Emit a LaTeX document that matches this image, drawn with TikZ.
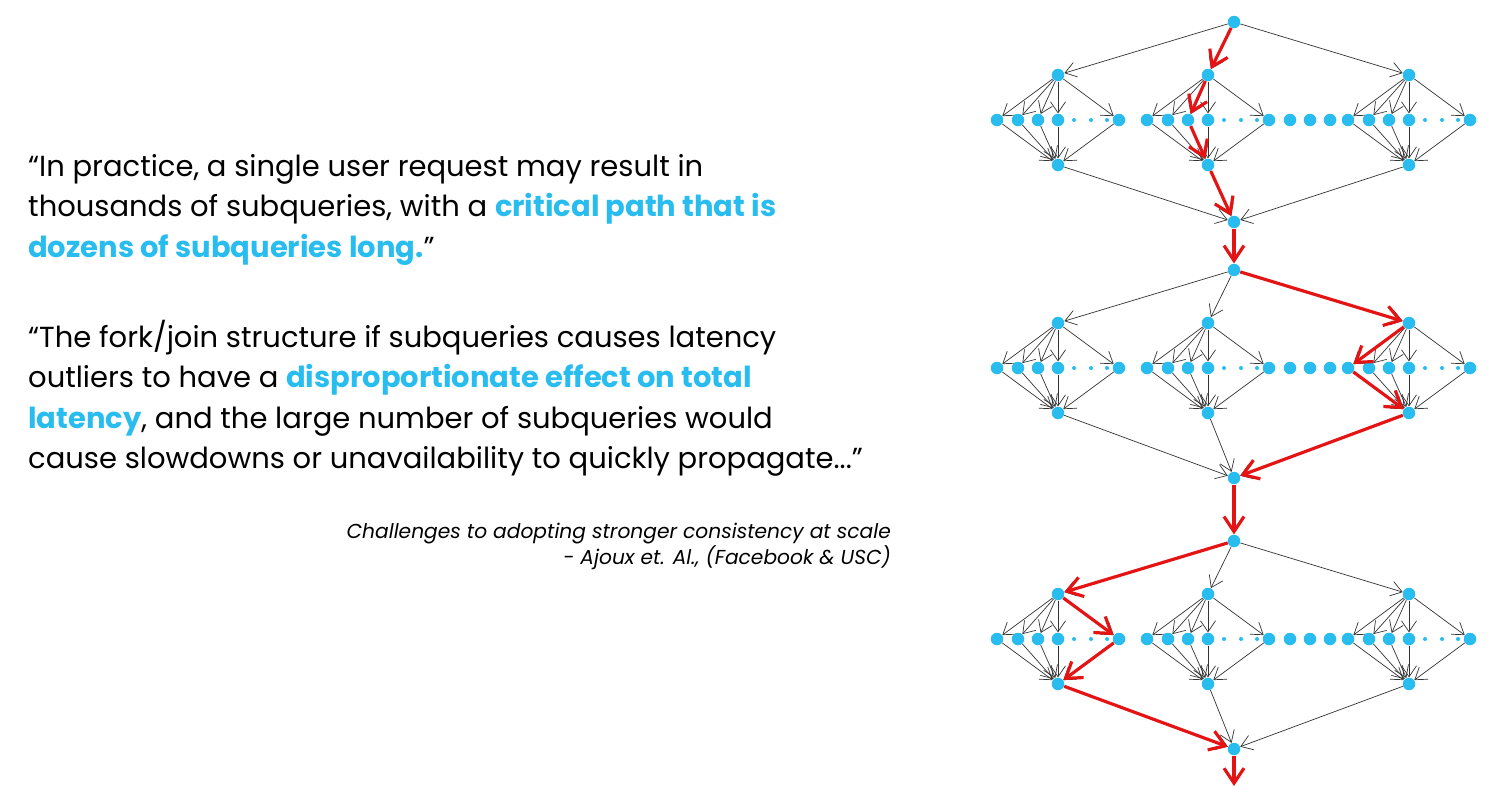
\documentclass[tikz,border=0pt]{standalone}
\usepackage{fontspec}
\setmainfont{Poppins}
\usetikzlibrary{arrows.meta}
\definecolor{qblue}{RGB}{41,189,239}
\definecolor{qred}{RGB}{228,20,20}
\tikzset{
    dot/.style = {circle, fill=qblue, inner sep=0pt, minimum size=0.25cm},
    tiny/.style = {circle, fill=qblue, inner sep=0pt, minimum size=0.08cm},
    edgen/.style = {-{Straight Barb[length=2.2mm,width=3mm]}, line width=0.4pt, black!80},
    edger/.style = {-{Straight Barb[length=3mm,width=4mm]}, line width=1.8pt, qred},
}
\begin{document}
\begin{tikzpicture}[x=0.02cm,y=-0.02cm]
\useasboundingbox (0,0) rectangle (1500,802);
% quotes
\node[anchor=north west, align=left, font=\fontsize{16.5}{23}\selectfont] (q1) at (22,148)
  {“In practice, a single user request may result in\\
   thousands of subqueries, with a \textcolor{qblue}{\bfseries critical path that is}\\
   \textcolor{qblue}{\bfseries dozens of subqueries long.}”};
\node[anchor=north west, align=left, font=\fontsize{16.5}{23}\selectfont] (q2) at (22,314)
  {“The fork/join structure if subqueries causes latency\\
   outliers to have a \textcolor{qblue}{\bfseries disproportionate effect on total}\\
   \textcolor{qblue}{\bfseries latency}, and the large number of subqueries would\\
   cause slowdowns or unavailability to quickly propagate...”};
\node[anchor=north east, align=right, font=\itshape\fontsize{11.5}{15}\selectfont] (cite) at (897,517)
  {Challenges to adopting stronger consistency at scale\\
   - Ajoux et. Al., (Facebook \& USC)};
% stages
\foreach \s/\t/\f in {1/22/222, 2/270/478, 3/541/749} {
  \node[dot] (s\s t) at (1234,\t) {};
  \node[dot] (s\s j) at (1234,\f) {};
  \foreach \g/\x in {1/1058, 2/1208, 3/1409} {
    \node[dot] (s\s g\g f) at (\x,\t+53) {};
    \node[dot] (s\s g\g j) at (\x,\t+143) {};
    \foreach \l/\dx in {1/-61, 2/-40, 3/-20, 4/0, 5/61} {
      \node[dot] (s\s g\g l\l) at (\x+\dx,\t+98) {};
      \draw[edgen] (s\s g\g f) -- (s\s g\g l\l);
      \draw[edgen] (s\s g\g l\l) -- (s\s g\g j);
    }
    \foreach \dx in {16,33,49}
      \node[tiny] at (\x+\dx,\t+98) {};
    \draw[edgen] (s\s t) -- (s\s g\g f);
    \draw[edgen] (s\s g\g j) -- (s\s j);
  }
  \foreach \x in {1290,1310,1330}
    \node[dot] at (\x,\t+98) {};
}
% critical path
\draw[edger] (s1t) -- (s1g2f);
\draw[edger] (s1g2f) -- (s1g2l3);
\draw[edger] (s1g2l3) -- (s1g2j);
\draw[edger] (s1g2j) -- (s1j);
\draw[edger] (s1j) -- (s2t);
\draw[edger] (s2t) -- (s2g3f);
\draw[edger] (s2g3f) -- (s2g3l1);
\draw[edger] (s2g3l1) -- (s2g3j);
\draw[edger] (s2g3j) -- (s2j);
\draw[edger] (s2j) -- (s3t);
\draw[edger] (s3t) -- (s3g1f);
\draw[edger] (s3g1f) -- (s3g1l5);
\draw[edger] (s3g1l5) -- (s3g1j);
\draw[edger] (s3g1j) -- (s3j);
\coordinate (end) at (1234,786);
\draw[edger] (s3j) -- (end);
\end{tikzpicture}
\end{document}
